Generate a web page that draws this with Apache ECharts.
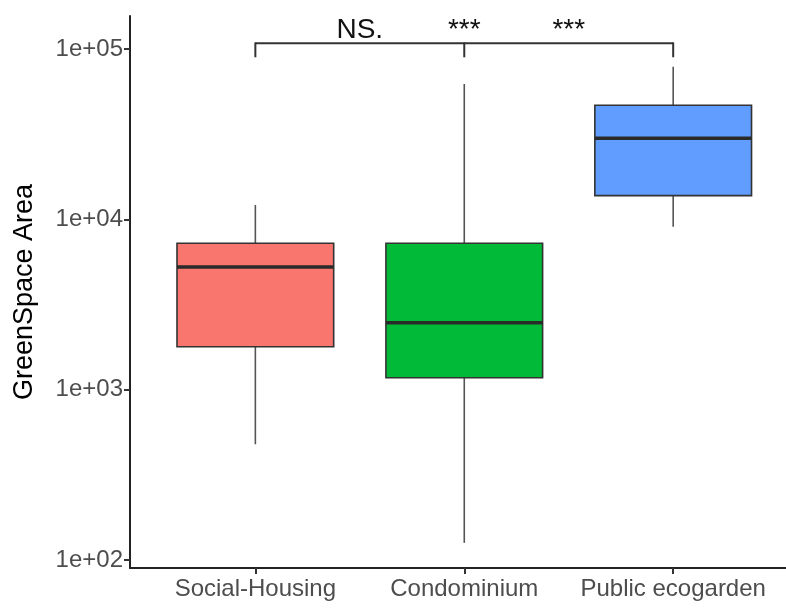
<!DOCTYPE html>
<html>
<head>
<meta charset="utf-8">
<script src="https://cdn.jsdelivr.net/npm/echarts@6/dist/echarts.min.js"></script>
<style>
html,body{margin:0;padding:0;background:#fff;}
#chart{width:786px;height:608px;}
</style>
</head>
<body>
<div id="chart"></div>
<script>
// ---- data ----
var categories = ['Social-Housing', 'Condominium', 'Public ecogarden'];
var whiskerLow  = [478, 126, 9050];
var q1Values    = [1786, 1175, 13770];
var medians     = [5250, 2473, 29900];
var q3Values    = [7230, 7230, 46700];
var whiskerHigh = [12140, 62300, 78700];
var boxColors   = ['#F8766D', '#00BA38', '#619CFF'];
var yTickValues = [100, 1000, 10000, 100000];
var bracketGroups = [1, 2, 3];
var sigLabelPos   = [1.5, 2, 2.5];
var sigLabels     = ['NS.', '***', '***'];

var FONT = "'Liberation Sans', Arial, sans-serif";
var bracketTop = 107900;
var bracketTickEnd = 89400;

var boxData = categories.map(function (c, i) {
  return [i + 1, whiskerLow[i], q1Values[i], medians[i], q3Values[i], whiskerHigh[i]];
});

function renderBox(params, api) {
  var x = api.value(0);
  var i = params.dataIndex;
  var pMin = api.coord([x, api.value(1)]);
  var pQ1 = api.coord([x, api.value(2)]);
  var pMed = api.coord([x, api.value(3)]);
  var pQ3 = api.coord([x, api.value(4)]);
  var pMax = api.coord([x, api.value(5)]);
  var w = api.size([0.75, 0])[0];
  var cx = pMin[0];
  var whiskerStyle = {stroke: '#555555', lineWidth: 1.6};
  return {
    type: 'group',
    children: [
      {type: 'line', shape: {x1: cx, y1: pMax[1], x2: cx, y2: pQ3[1]}, style: whiskerStyle},
      {type: 'line', shape: {x1: cx, y1: pQ1[1], x2: cx, y2: pMin[1]}, style: whiskerStyle},
      {type: 'rect', shape: {x: cx - w / 2, y: pQ3[1], width: w, height: pQ1[1] - pQ3[1]},
        style: {fill: boxColors[i], stroke: '#333333', lineWidth: 1.6}},
      {type: 'line', shape: {x1: cx - w / 2, y1: pMed[1], x2: cx + w / 2, y2: pMed[1]},
        style: {stroke: '#2a2a2a', lineWidth: 3.5}}
    ]
  };
}

function renderBracket(params, api) {
  var children = [];
  var first = api.coord([bracketGroups[0], bracketTop]);
  var last = api.coord([bracketGroups[bracketGroups.length - 1], bracketTop]);
  children.push({type: 'line', shape: {x1: first[0], y1: first[1], x2: last[0], y2: last[1]},
    style: {stroke: '#333333', lineWidth: 2}});
  bracketGroups.forEach(function (g) {
    var a = api.coord([g, bracketTop]);
    var b = api.coord([g, bracketTickEnd]);
    children.push({type: 'line', shape: {x1: a[0], y1: a[1] - 1, x2: b[0], y2: b[1]},
      style: {stroke: '#333333', lineWidth: 2}});
  });
  sigLabels.forEach(function (t, k) {
    var p = api.coord([sigLabelPos[k], bracketTop]);
    children.push({type: 'text', style: {text: t, x: p[0], y: p[1] + 1,
      fill: '#111111', fontSize: 28, fontFamily: FONT, align: 'center', verticalAlign: 'bottom'}});
  });
  return {type: 'group', children: children};
}

var chart = echarts.init(document.getElementById('chart'));
chart.setOption({
  animation: false,
  backgroundColor: '#ffffff',
  grid: {left: 130, top: 16, right: 0, height: 552, containLabel: false},
  xAxis: {
    type: 'value', min: 0.4, max: 3.54,
    splitLine: {show: false},
    axisLine: {show: true, lineStyle: {color: '#222222', width: 2}},
    axisTick: {show: true, length: 6, customValues: [1, 2, 3], lineStyle: {color: '#333333', width: 2}},
    axisLabel: {show: true, customValues: [1, 2, 3], margin: 9, fontSize: 24, fontFamily: FONT, color: '#4D4D4D',
      formatter: function (v) { return categories[Math.round(v) - 1] || ''; }}
  },
  yAxis: {
    type: 'log', logBase: 10, min: 89.7, max: 156200,
    name: 'GreenSpace Area', nameLocation: 'middle', nameGap: 92,
    nameTextStyle: {fontSize: 27, fontFamily: FONT, color: '#000000'},
    splitLine: {show: false},
    axisLine: {show: true, lineStyle: {color: '#222222', width: 2}},
    axisTick: {show: true, length: 6, customValues: yTickValues, lineStyle: {color: '#333333', width: 2}},
    axisLabel: {show: true, customValues: yTickValues, margin: 7, fontSize: 24, fontFamily: FONT, color: '#4D4D4D',
      formatter: function (v) { var e = Math.round(Math.log10(v)); return '1e+' + (e < 10 ? '0' : '') + e; }}
  },
  series: [
    {type: 'custom', renderItem: renderBox, data: boxData, encode: {x: 0, y: [1, 2, 3, 4, 5]}, clip: false},
    {type: 'custom', renderItem: renderBracket, data: [[2, bracketTop]], encode: {x: 0, y: 1}, clip: false, silent: true}
  ]
});
</script>
</body>
</html>
